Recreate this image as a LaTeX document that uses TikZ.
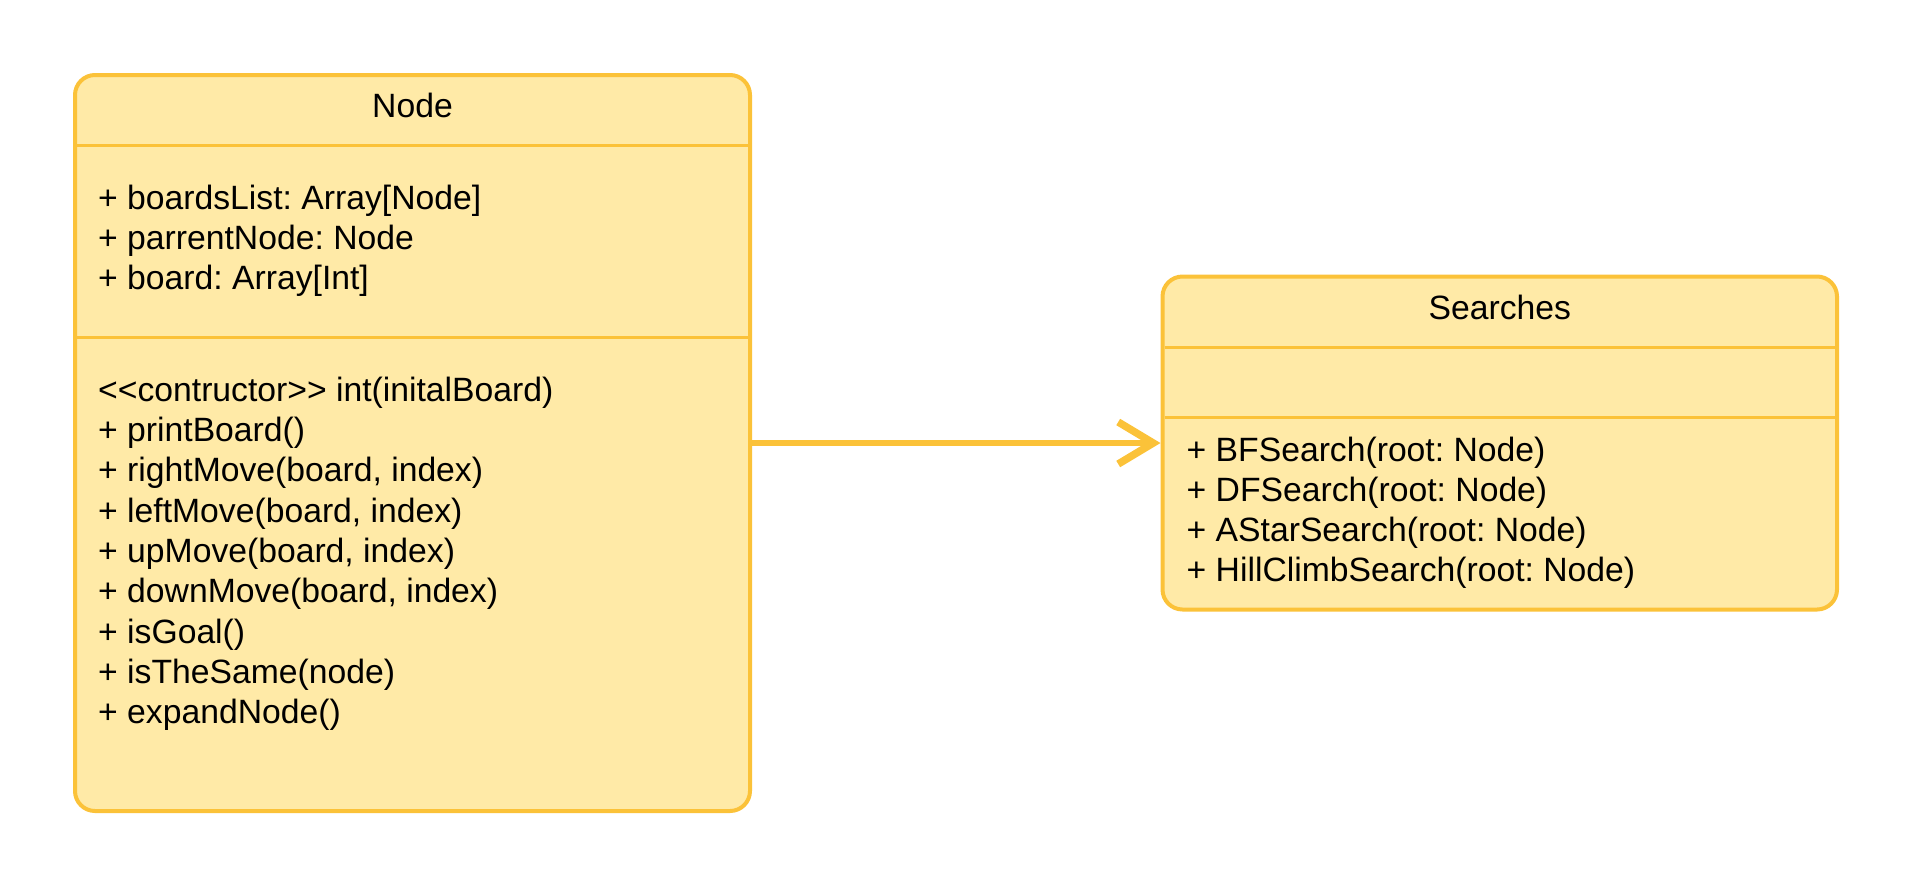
\documentclass[tikz,border=0pt]{standalone}
\usepackage{fontspec}
\setmainfont{Liberation Sans}
\usetikzlibrary{arrows.meta}
\definecolor{umlfill}{RGB}{255,234,167}
\definecolor{umlline}{RGB}{251,194,57}
\tikzset{
  classbox/.style={draw=umlline, fill=umlfill, line width=4pt, rounded corners=20pt, inner sep=0pt},
  sepline/.style={draw=umlline, line width=3pt},
  titletext/.style={font=\fontsize{33.7}{40}\selectfont\frenchspacing, anchor=base, inner sep=0pt},
  itemtext/.style={font=\fontsize{33.7}{40}\selectfont\frenchspacing, anchor=base west, inner sep=0pt},
  assoc/.style={draw=umlline, line width=6.5pt, -{Straight Barb[length=35pt, width=42pt, line width=7.5pt]}}
}
\begin{document}
\begin{tikzpicture}[x=1pt,y=-1pt]
\useasboundingbox (0,0) rectangle (1913,887);
% Node class
\node[classbox, minimum width=675pt, minimum height=736pt] (nodebox) at (412.5,443) {};
\draw[sepline] (77,145) -- (748,145);
\draw[sepline] (77,337) -- (748,337);
\node[titletext] (nodetitle) at (412.5,117) {Node};
\node[itemtext] (na1) at (98,209) {+ boardsList: Array[Node]};
\node[itemtext] (na2) at (98,249) {+ parrentNode: Node};
\node[itemtext] (na3) at (98,289) {+ board: Array[Int]};
\node[itemtext] (nm1) at (98,401.2) {<{}<contructor>{}> int(initalBoard)};
\node[itemtext] (nm2) at (98,441.5) {+ printBoard()};
\node[itemtext] (nm3) at (98,481.8) {+ rightMove(board, index)};
\node[itemtext] (nm4) at (98,522.1) {+ leftMove(board, index)};
\node[itemtext] (nm5) at (98,562.4) {+ upMove(board, index)};
\node[itemtext] (nm6) at (98,602.7) {+ downMove(board, index)};
\node[itemtext] (nm7) at (98,643) {+ isGoal()};
\node[itemtext] (nm8) at (98,683.3) {+ isTheSame(node)};
\node[itemtext] (nm9) at (98,723.6) {+ expandNode()};
% Searches class
\node[classbox, minimum width=674.5pt, minimum height=333pt] (searchbox) at (1499.75,443) {};
\draw[sepline] (1164.5,347) -- (1835,347);
\draw[sepline] (1164.5,417) -- (1835,417);
\node[titletext] (searchtitle) at (1499.75,319) {Searches};
\node[itemtext] (sm1) at (1186.5,461) {+ BFSearch(root: Node)};
\node[itemtext] (sm2) at (1186.5,501) {+ DFSearch(root: Node)};
\node[itemtext] (sm3) at (1186.5,541) {+ AStarSearch(root: Node)};
\node[itemtext] (sm4) at (1186.5,581) {+ HillClimbSearch(root: Node)};
% association
\draw[assoc] (nodebox.east) -- (searchbox.west);
\end{tikzpicture}
\end{document}
